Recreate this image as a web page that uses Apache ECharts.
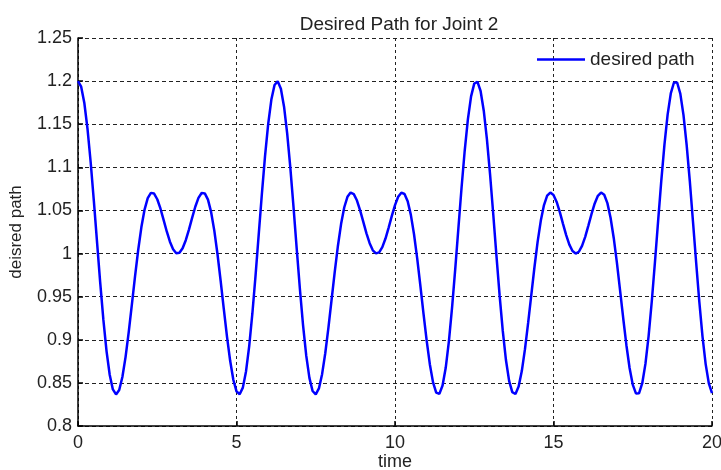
<!DOCTYPE html>
<html>
<head>
<meta charset="utf-8">
<script src="https://cdn.jsdelivr.net/npm/echarts@6/dist/echarts.min.js"></script>
<style>html,body{margin:0;padding:0;background:#fff}#c{width:721px;height:470px}</style>
</head>
<body>
<div id="c"></div>
<script>
const times = [0,0.1,0.2,0.3,0.4,0.5,0.6,0.7,0.8,0.9,1,1.1,1.2,1.3,1.4,1.5,1.6,1.7,1.8,1.9,2,2.1,2.2,2.3,2.4,2.5,2.6,2.7,2.8,2.9,3,3.1,3.2,3.3,3.4,3.5,3.6,3.7,3.8,3.9,4,4.1,4.2,4.3,4.4,4.5,4.6,4.7,4.8,4.9,5,5.1,5.2,5.3,5.4,5.5,5.6,5.7,5.8,5.9,6,6.1,6.2,6.3,6.4,6.5,6.6,6.7,6.8,6.9,7,7.1,7.2,7.3,7.4,7.5,7.6,7.7,7.8,7.9,8,8.1,8.2,8.3,8.4,8.5,8.6,8.7,8.8,8.9,9,9.1,9.2,9.3,9.4,9.5,9.6,9.7,9.8,9.9,10,10.1,10.2,10.3,10.4,10.5,10.6,10.7,10.8,10.9,11,11.1,11.2,11.3,11.4,11.5,11.6,11.7,11.8,11.9,12,12.1,12.2,12.3,12.4,12.5,12.6,12.7,12.8,12.9,13,13.1,13.2,13.3,13.4,13.5,13.6,13.7,13.8,13.9,14,14.1,14.2,14.3,14.4,14.5,14.6,14.7,14.8,14.9,15,15.1,15.2,15.3,15.4,15.5,15.6,15.7,15.8,15.9,16,16.1,16.2,16.3,16.4,16.5,16.6,16.7,16.8,16.9,17,17.1,17.2,17.3,17.4,17.5,17.6,17.7,17.8,17.9,18,18.1,18.2,18.3,18.4,18.5,18.6,18.7,18.8,18.9,19,19.1,19.2,19.3,19.4,19.5,19.6,19.7,19.8,19.9,20];
const desiredPath = [
  1.2,1.1935,1.1746,1.1447,1.1059,1.0611,1.0135,0.9665,0.9233,0.8869,
  0.8594,0.8424,0.8366,0.8417,0.8568,0.8799,0.9089,0.9411,0.9738,1.0044,
  1.0307,1.0510,1.0643,1.0704,1.0696,1.0630,1.0523,1.0391,1.0256,1.0137,
  1.0049,1.0004,1.0009,1.0061,1.0155,1.0278,1.0414,1.0543,1.0645,1.0702,
  1.0698,1.0625,1.0480,1.0266,0.9995,0.9684,0.9356,0.9037,0.8756,0.8536,
  0.8401,0.8368,0.8445,0.8633,0.8924,0.9302,0.9742,1.0216,1.0690,1.1129,
  1.1504,1.1786,1.1955,1.1998,1.1912,1.1703,1.1387,1.0987,1.0532,1.0055,
  0.9589,0.9167,0.8816,0.8558,0.8406,0.8367,0.8436,0.8601,0.8844,0.9142,
  0.9466,0.9791,1.0091,1.0345,1.0537,1.0658,1.0707,1.0689,1.0615,1.0501,
  1.0368,1.0235,1.0120,1.0038,1.0002,1.0014,1.0074,1.0174,1.0301,1.0437,
  1.0562,1.0658,1.0706,1.0691,1.0606,1.0449,1.0224,0.9945,0.9629,0.9301,
  0.8987,0.8714,0.8506,0.8388,0.8373,0.8469,0.8675,0.8982,0.9372,0.9820,
  1.0296,1.0766,1.1198,1.1559,1.1823,1.1971,1.1993,1.1885,1.1657,1.1325,
  1.0914,1.0453,0.9975,0.9514,0.9102,0.8765,0.8524,0.8392,0.8371,0.8457,
  0.8637,0.8891,0.9195,0.9522,0.9844,1.0138,1.0382,1.0562,1.0671,1.0708,
  1.0680,1.0598,1.0480,1.0345,1.0214,1.0103,1.0029,1.0000,1.0021,1.0089,
  1.0194,1.0324,1.0459,1.0581,1.0670,1.0708,1.0682,1.0585,1.0415,1.0181,
  0.9894,0.9574,0.9247,0.8937,0.8673,0.8480,0.8378,0.8381,0.8496,0.8720,
  0.9043,0.9444,0.9899,1.0376,1.0842,1.1264,1.1611,1.1857,1.1984,1.1984,
  1.1855,1.1608,1.1261,1.0839,1.0372,0.9896,0.9441,0.9040,0.8718,0.8494,
  0.8381
];
const xTicks = {min: 0, max: 20, interval: 5};
const yTicks = {min: 0.8, max: 1.25, interval: 0.05};

const font = 'Liberation Sans, Arial, sans-serif';
const chart = echarts.init(document.getElementById('c'), null, {renderer: 'canvas'});
chart.setOption({
  animation: false,
  backgroundColor: '#fff',
  title: {
    text: 'Desired Path for Joint 2',
    left: 394, top: 10, textAlign: 'center',
    textStyle: {fontFamily: font, fontSize: 19, fontWeight: 'normal', color: '#222'}
  },
  legend: {
    left: 537, top: 50, padding: 0,
    icon: 'rect', itemWidth: 48, itemHeight: 2.5, itemGap: 10,
    textStyle: {fontFamily: font, fontSize: 19, color: '#222'},
    data: ['desired path']
  },
  grid: {left: 78, right: 9, top: 38, bottom: 44, containLabel: false, outerBoundsMode: 'none'},
  xAxis: {
    type: 'value', min: xTicks.min, max: xTicks.max, interval: xTicks.interval,
    name: 'time', nameLocation: 'middle', nameGap: 27, nameMoveOverlap: false,
    nameTextStyle: {fontFamily: font, fontSize: 18, color: '#222'},
    axisLine: {show: true, lineStyle: {color: '#000', width: 1.5}},
    axisTick: {show: true, inside: true, length: 5, lineStyle: {color: '#000', width: 1.5}},
    axisLabel: {fontFamily: font, fontSize: 18, color: '#222', margin: 8},
    splitLine: {show: true, lineStyle: {color: '#222', width: 1, type: [3, 3]}}
  },
  yAxis: {
    type: 'value', min: yTicks.min, max: yTicks.max, interval: yTicks.interval,
    name: 'deisred path', nameLocation: 'middle', nameGap: 53,
    nameTextStyle: {fontFamily: font, fontSize: 17, color: '#222'},
    axisLine: {show: true, lineStyle: {color: '#000', width: 1.5}},
    axisTick: {show: true, inside: true, length: 5, lineStyle: {color: '#000', width: 1.5}},
    axisLabel: {fontFamily: font, fontSize: 18, color: '#222', margin: 6},
    splitLine: {show: true, lineStyle: {color: '#222', width: 1, type: [4, 3]}}
  },
  series: [{
    name: 'desired path',
    type: 'line',
    data: times.map((t, i) => [t, desiredPath[i]]),
    smooth: false,
    symbol: 'none',
    lineStyle: {color: '#0000ff', width: 2.5},
    itemStyle: {color: '#0000ff'}
  }]
});
</script>
</body>
</html>
